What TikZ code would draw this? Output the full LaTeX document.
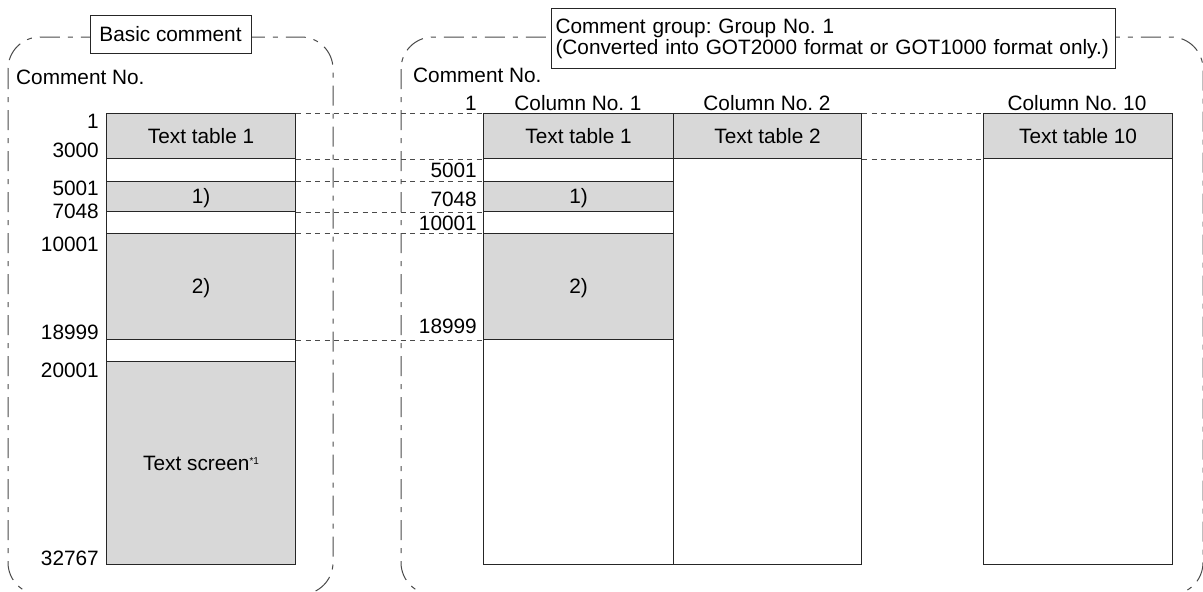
\documentclass[tikz,border=0pt]{standalone}
\usepackage{fontspec}
\setmainfont{Liberation Sans}
\definecolor{cellgray}{HTML}{D8D8D8}
\definecolor{linegray}{HTML}{4A4A4A}
\begin{document}
\frenchspacing
\begin{tikzpicture}[x=1pt,y=-1pt,
  every node/.style={font=\fontsize{20.8}{21}\selectfont},
  panel/.style={draw=linegray, line width=1pt, dash pattern=on 20pt off 8pt on 5pt off 8pt, rounded corners=32pt},
  link/.style={draw=linegray, line width=1pt, dash pattern=on 5pt off 4.5pt},
  cell/.style={draw=black!85, line width=1.2pt, anchor=north west, inner sep=0pt, text height=14pt, text depth=0pt},
  gcell/.style={cell, fill=cellgray},
  lab/.style={inner sep=0pt, anchor=base east},
  labw/.style={inner sep=0pt, anchor=base west},
  head/.style={inner sep=0pt, anchor=base},
  titlebox/.style={draw=black!85, line width=1pt, fill=white, inner sep=0pt}
]
\useasboundingbox (0,0) rectangle (1203,592);
% panels
\draw[panel] (8,37) rectangle (333,594.5);
\draw[panel] (401,37) rectangle (1203,594.5);
% left table
\node[gcell, minimum width=189pt, minimum height=45pt] (L1) at (106,113) {Text table 1};
\node[cell, minimum width=189pt, minimum height=23pt] (Lw1) at (106,158) {};
\node[gcell, minimum width=189pt, minimum height=30pt] (La) at (106,181) {1)};
\node[cell, minimum width=189pt, minimum height=22pt] (Lw2) at (106,211) {};
\node[gcell, minimum width=189pt, minimum height=106pt] (Lb) at (106,233) {2)};
\node[cell, minimum width=189pt, minimum height=22pt] (Lw3) at (106,339) {};
\node[gcell, minimum width=189pt, minimum height=203pt] (Lc) at (106,361) {Text screen\raisebox{6pt}{\fontsize{10}{10}\selectfont *1}};
% right table column 1
\node[gcell, minimum width=190pt, minimum height=45pt] (R1) at (483,113) {Text table 1};
\node[cell, minimum width=190pt, minimum height=23pt] (Rw1) at (483,158) {};
\node[gcell, minimum width=190pt, minimum height=30pt] (Ra) at (483,181) {1)};
\node[cell, minimum width=190pt, minimum height=22pt] (Rw2) at (483,211) {};
\node[gcell, minimum width=190pt, minimum height=106pt] (Rb) at (483,233) {2)};
\node[cell, minimum width=190pt, minimum height=225pt] (Rw3) at (483,339) {};
% column 2
\node[gcell, minimum width=188pt, minimum height=45pt] (T2) at (673,113) {Text table 2};
\node[cell, minimum width=188pt, minimum height=406pt] (C2) at (673,158) {};
% column 10
\node[gcell, minimum width=189pt, minimum height=45pt] (T10) at (983,113) {Text table 10};
\node[cell, minimum width=189pt, minimum height=406pt] (C10) at (983,158) {};
% links
\draw[link] (L1.north east) -- (R1.north west);
\draw[link] (L1.south east) -- (R1.south west);
\draw[link] (La.north east) -- (Ra.north west);
\draw[link] (La.south east) -- (Ra.south west);
\draw[link] (Lb.north east) -- (Rb.north west);
\draw[link] (Lb.south east) -- (Rb.south west);
\draw[link] (T2.north east) -- (T10.north west);
\draw[link] (T2.south east) -- (T10.south west);
% left labels
\node[labw] (lcn) at (16,84) {Comment No.};
\node[lab] (l1) at (99,128) {1};
\node[lab] (l3000) at (99,157) {3000};
\node[lab] (l5001) at (99,195) {5001};
\node[lab] (l7048) at (99,218) {7048};
\node[lab] (l10001) at (99,251) {10001};
\node[lab] (l18999) at (99,339) {18999};
\node[lab] (l20001) at (99,377) {20001};
\node[lab] (l32767) at (99,565) {32767};
% right labels
\node[labw] (rcn) at (413,82) {Comment No.};
\node[lab] (r1) at (477,110) {1};
\node[lab] (r5001) at (477,177) {5001};
\node[lab] (r7048) at (477,206) {7048};
\node[lab] (r10001) at (477,230) {10001};
\node[lab] (r18999) at (477,333) {18999};
% column heads
\node[head] (h1) at (578,110) {Column No. 1};
\node[head] (h2) at (767,110) {Column No. 2};
\node[head] (h10) at (1077,110) {Column No. 10};
% title boxes
\node[titlebox, minimum width=161pt, minimum height=38pt] (basic) at (170.5,34) {Basic comment};
\node[titlebox, anchor=north west, minimum width=564pt, minimum height=60pt, text width=556pt, align=left, inner xsep=4pt] (group) at (551,8) {Comment group: Group No. 1\\(Converted into GOT2000 format or GOT1000 format only.)};
\end{tikzpicture}
\end{document}
